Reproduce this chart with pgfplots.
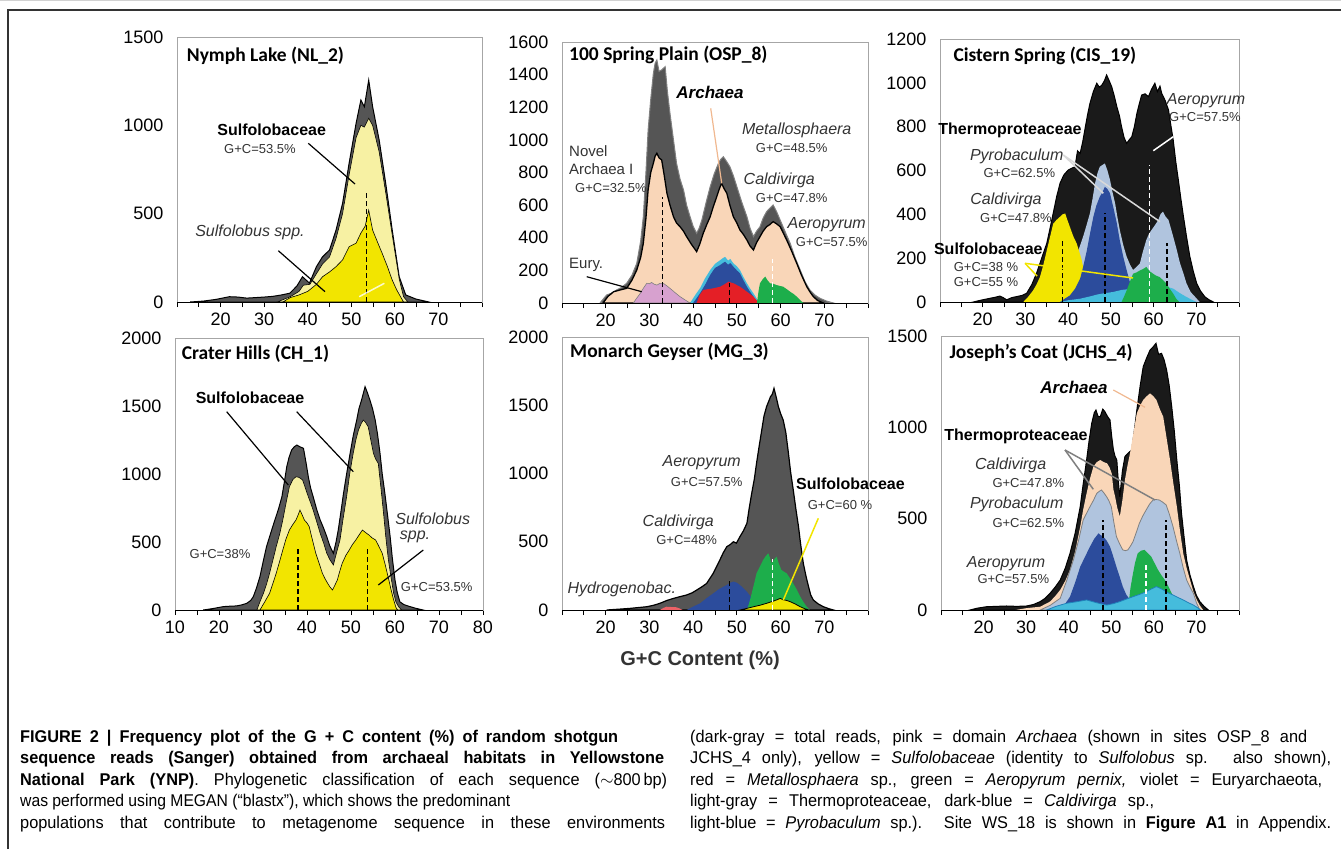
\documentclass[border=0pt]{standalone}
\usepackage{pgfplots}
\pgfplotsset{compat=1.18}
\usepackage{fontspec}
\usepackage{graphicx}
\setmainfont{Liberation Sans}
\newfontfamily\titlefont{Carlito}
\newfontfamily\capfont[FakeStretch=0.96]{Liberation Sans}
\newcommand{\fs}[1]{\fontsize{#1}{#1}\selectfont}
\newsavebox\capbox
\newcommand{\capline}[2]{\sbox\capbox{#2}\ifdim\wd\capbox>#1\relax\resizebox{#1}{\height}{#2}\else\makebox[#1][s]{#2}\fi}
\definecolor{totgray}{HTML}{555555}
\definecolor{totblack}{HTML}{1A1A1A}
\definecolor{lyellow}{HTML}{F7F1A3}
\definecolor{yell}{HTML}{F2E500}
\definecolor{peach}{HTML}{F9D6B8}
\definecolor{peachline}{HTML}{F0B890}
\definecolor{thermo}{HTML}{B0C4DE}
\definecolor{dblue}{HTML}{2C4C9C}
\definecolor{cyanb}{HTML}{45BCDC}
\definecolor{grn}{HTML}{1DAE4B}
\definecolor{redm}{HTML}{E41F26}
\definecolor{violet}{HTML}{D7A1CF}
\definecolor{gctext}{HTML}{333333}
\tikzset{gcdash/.style={dash pattern=on 5pt off 3pt, line width=1.5pt}}
\pgfplotsset{panel/.style={anchor=south west, scale only axis, xmin=10, xmax=80, ymin=0,
  axis line style={draw=gray!70, line width=0.8pt},
  xtick={10,15,...,80}, xticklabels={{},{},20,{},30,{},40,{},50,{},60,{},70,{},{}},
  xtick pos=bottom, ytick pos=left,
  tick align=outside, xtick style={draw=black, line width=0.8pt}, major tick length=5pt,
  ytick style={draw=none},
  tick label style={font=\fs{18}},
  yticklabel style={xshift=-5pt},
  xticklabel style={yshift=-2pt},
  /pgf/number format/assume math mode=true,
  /pgf/number format/1000 sep={},
  clip=false}}
\begin{document}
\begin{tikzpicture}
\path[use as bounding box] (0pt,0pt) rectangle (1341pt,-849pt);
\draw[gray!35, line width=0.8pt] (0pt,-0.5pt) -- (1341pt,-0.5pt);
\draw[black!80, line width=1.2pt] (8pt,-849pt) -- (8pt,-10pt) -- (1341pt,-10pt);

% ---------- Panel 1: NL_2
\begin{axis}[panel, at={(177pt,-302pt)}, width=305pt, height=265pt, ymax=1500, ytick={0,500,1000,1500}]
\addplot[fill=totgray, draw=black, line width=1pt] coordinates {(13,0)(16,5)(19,15)(22,30)(24,28)(26,22)(28,25)(30,28)(32,32)(34,40)(35.9,50)(37.5,90)(38.8,143)(40.4,107)(42,200)(43.4,256)(45,294)(46.5,407)(48,558)(49.5,785)(51.1,1011)(52.2,1143)(53,1105)(54,1256)(54.9,1105)(56.4,917)(57.9,672)(59.4,407)(61,143)(62.5,40)(64.8,17)(67.8,0)} \closedcycle;
\addplot[fill=lyellow, draw=black, line width=0.6pt] coordinates {(33,0)(36,30)(38,60)(39,95)(40.5,100)(42,160)(43.4,215)(45,255)(46.5,360)(48,500)(49.5,720)(51.1,930)(52.2,1000)(53,990)(54,1040)(54.9,1000)(56.4,850)(57.9,620)(59.4,380)(61,130)(62,30)(63,0)} \closedcycle;
\addplot[fill=yell, draw=black, line width=0.6pt] coordinates {(34.3,0)(36,25)(38,40)(40,60)(42,100)(43.4,143)(45,170)(46.5,200)(48,238)(49.5,313)(51.1,333)(52.2,390)(53.2,430)(54,520)(54.9,407)(56,340)(57.1,275)(58.3,200)(59.4,124)(60.4,70)(61.3,30)(62,0)} \closedcycle;
\draw[gcdash, black] (axis cs:53.5,0) -- (axis cs:53.5,617);
\draw[white, opacity=0.8, line width=1.5pt] (axis cs:51.8,30) -- (axis cs:57.6,106);
\draw[black, line width=1pt] (rel axis cs:0,0) -- (rel axis cs:1,0);
\end{axis}

% ---------- Panel 2: OSP_8
\begin{axis}[panel, at={(562pt,-303pt)}, width=306pt, height=261pt, ymax=1600, ytick={0,200,...,1600}]
\addplot[fill=totgray, draw=gray, line width=1pt] coordinates {(18.7,0)(20.2,49)(21.3,60)(22.5,80)(23.6,95)(24.8,121)(26,170)(27.1,243)(28,380)(28.6,529)(29.2,800)(29.7,1061)(30.3,1250)(30.9,1408)(31.3,1470)(31.7,1490)(32.2,1420)(32.8,1429)(33.6,1449)(34.1,1300)(34.7,1163)(35.5,1000)(36.2,857)(37,760)(37.8,693)(38.5,600)(39.3,529)(40,470)(40.8,427)(41.4,460)(42,509)(43,620)(43.9,713)(44.8,790)(45.8,857)(46.3,880)(46.9,897)(47.6,870)(48.4,836)(49.2,780)(50,713)(51.1,620)(52.3,529)(53,460)(53.8,407)(54.5,440)(55.3,468)(56,520)(56.8,560)(57.5,580)(58.3,601)(59.1,560)(59.9,509)(61,440)(62.2,366)(63.3,280)(64.5,202)(65.6,130)(66.7,80)(67.8,50)(69,29)(70.5,12)(72.1,0)} \closedcycle;
\addplot[fill=peach, draw=black, line width=1.3pt] coordinates {(19.4,0)(20.5,40)(21.8,69)(23.3,80)(24.8,90)(26,140)(27.1,202)(28,280)(28.6,366)(29.2,520)(29.7,693)(30.3,800)(30.9,857)(31.3,900)(31.7,918)(32.2,890)(32.8,877)(33.4,780)(34,673)(34.7,600)(35.5,529)(36.2,490)(37,468)(37.8,440)(38.5,407)(39.6,360)(40.8,315)(41.5,360)(42.3,427)(43.1,480)(43.9,529)(44.6,590)(45.4,652)(46,700)(46.5,734)(47.1,700)(47.7,673)(48.4,600)(49.2,529)(50,490)(50.7,448)(51.5,420)(52.3,386)(53,350)(53.8,325)(54.5,370)(55.3,407)(56,440)(56.8,468)(57.5,480)(58.3,499)(59.1,485)(59.9,468)(60.6,430)(61.4,386)(62.5,320)(63.7,243)(64.8,170)(66,100)(66.8,65)(67.5,39)(68.5,15)(69.8,0)} \closedcycle;
\addplot[fill=violet, draw=gray, line width=0.6pt] coordinates {(26.3,0)(27.1,30)(27.9,59)(28.6,90)(29.4,121)(30,118)(30.5,126)(31.1,115)(31.7,110)(32.4,120)(33.2,120)(34,105)(34.7,90)(35.8,65)(37,39)(38.2,18)(39.3,0)} \closedcycle;
\addplot[fill=cyanb, draw=none] coordinates {(39.3,0)(40.5,50)(41.6,92)(42.7,150)(43.9,202)(45,240)(46.2,263)(46.8,275)(47.3,283)(48,260)(48.5,270)(49.2,243)(50,225)(50.7,202)(51.5,160)(52.3,121)(53,90)(53.8,59)(54.6,25)(55.3,0)} \closedcycle;
\addplot[fill=dblue, draw=none] coordinates {(40,0)(40.8,30)(41.6,61)(42.7,110)(43.9,172)(45,215)(46.2,233)(46.8,245)(47.3,253)(48,235)(48.5,245)(49.2,223)(50,200)(50.7,182)(51.5,140)(52.3,100)(53,70)(53.8,39)(54.5,10)(55,0)} \closedcycle;
\addplot[fill=redm, draw=none] coordinates {(40.8,0)(41.5,50)(42.3,80)(43.4,85)(44.6,90)(45.4,95)(46.2,100)(47.2,115)(48.1,131)(48.7,125)(49.2,121)(50,110)(50.7,100)(51.5,85)(52.3,69)(53,55)(53.8,39)(54.5,18)(55.3,0)} \closedcycle;
\addplot[fill=grn, draw=none] coordinates {(54.6,0)(55,80)(55.3,121)(55.9,145)(56.5,162)(57,140)(57.6,121)(58.3,118)(59.1,110)(59.8,105)(60.6,100)(61.4,85)(62.2,69)(63,55)(63.7,39)(64.5,18)(65.2,0)} \closedcycle;
\draw[gcdash, black] (axis cs:33,0) -- (axis cs:33,652);
\draw[gcdash, black] (axis cs:48.3,0) -- (axis cs:48.3,124);
\draw[gcdash, white] (axis cs:58.2,0) -- (axis cs:58.2,270);
\draw[black, line width=1pt] (rel axis cs:0,0) -- (rel axis cs:1,0);
\end{axis}

% ---------- Panel 3: CIS_19
\begin{axis}[panel, at={(940pt,-302pt)}, width=299pt, height=263pt, ymax=1200, ytick={0,200,...,1200}]
\addplot[fill=totblack, draw=black, line width=1pt] coordinates {(17.8,0)(19.5,8)(21.7,17)(23,22)(24,27)(24.8,20)(25.6,10)(26.8,20)(28,25)(29.2,30)(30.3,40)(31.5,80)(32.6,131)(33.8,200)(35,268)(35.8,340)(36.5,405)(37.3,480)(38.1,542)(39,580)(40,602)(40.8,610)(41.6,617)(42.2,690)(42.8,678)(43.4,730)(43.9,785)(44.5,850)(45.1,906)(45.9,960)(46.7,998)(47.3,980)(47.9,990)(48.5,1010)(49,1036)(49.6,1010)(50.2,982)(50.8,940)(51.4,891)(52,850)(52.5,800)(53.1,750)(53.7,724)(54.3,740)(54.9,754)(55.5,800)(56.1,861)(56.6,900)(57.2,944)(58,950)(58.8,937)(59.5,970)(60.3,998)(60.9,960)(61.5,985)(61.9,952)(62.7,920)(63.5,876)(64.1,800)(64.6,739)(65.2,640)(65.8,557)(66.4,470)(67,389)(67.7,300)(68.5,207)(69.3,140)(70.1,85)(71,50)(72,24)(73,10)(74,0)} \closedcycle;
\addplot[fill=thermo, draw=none] coordinates {(38.1,0)(39.5,90)(41.2,176)(42.3,230)(43.5,298)(44.3,350)(45.1,405)(45.7,470)(46.3,542)(46.9,590)(47.4,617)(48,625)(48.6,632)(49.2,600)(49.8,557)(50.4,500)(51,450)(51.6,380)(52.1,328)(52.9,260)(53.7,207)(54.5,170)(55.2,146)(56,160)(56.8,176)(57.5,230)(58.3,283)(58.9,310)(59.5,328)(60.3,350)(61.1,374)(61.6,400)(62.2,412)(62.8,390)(63.5,374)(64,340)(64.6,298)(65.4,240)(66.2,176)(67,130)(67.7,85)(68.7,45)(69.7,24)(70.8,0)} \closedcycle;
\addplot[fill=yell, draw=none] coordinates {(29.5,0)(30.7,25)(31.8,53)(32.6,80)(33.4,114)(34.2,170)(35,236)(35.8,300)(36.5,357)(37.3,375)(38.1,389)(38.7,400)(39.3,404)(39.9,370)(40.4,343)(41.2,300)(42,267)(42.6,230)(43.2,190)(43.6,150)(44,114)(44.4,60)(44.8,23)(45.2,0)} \closedcycle;
\addplot[fill=dblue, draw=none] coordinates {(38.1,0)(39.2,15)(40.4,30)(41.6,60)(42.8,106)(43.5,160)(44.3,228)(45.1,310)(45.9,389)(46.6,440)(47.4,480)(48,500)(48.6,526)(49.2,515)(49.8,496)(50.6,430)(51.4,359)(52.1,280)(52.9,207)(53.5,160)(54.1,116)(54.7,75)(55.2,40)(55.8,15)(56.3,0)} \closedcycle;
\addplot[fill=cyanb, draw=none] coordinates {(38.1,0)(40,8)(42.8,15)(45,25)(47,35)(48.5,40)(50.6,46)(52.5,55)(55.2,61)(56.8,70)(58.3,76)(60,80)(61.4,76)(63,70)(64.6,61)(66.2,40)(67.7,23)(69,10)(70.1,0)} \closedcycle;
\addplot[fill=grn, draw=none] coordinates {(52.5,0)(53.1,25)(53.7,53)(54.5,95)(55.2,129)(56,135)(56.8,144)(57.5,150)(58.3,160)(59.1,140)(59.9,129)(60.6,120)(61.4,114)(62.2,100)(63,84)(63.8,60)(64.6,38)(65.3,15)(66,0)} \closedcycle;
\draw[gcdash, black] (axis cs:38.7,0) -- (axis cs:38.7,283);
\draw[gcdash, black] (axis cs:48.6,0) -- (axis cs:48.6,405);
\draw[gcdash, white] (axis cs:59,0) -- (axis cs:59,625);
\draw[gcdash, black] (axis cs:63.1,0) -- (axis cs:63.1,268);
\draw[black, line width=1pt] (rel axis cs:0,0) -- (rel axis cs:1,0);
\end{axis}

% ---------- Panel 4: CH_1
\begin{axis}[panel, at={(175pt,-610pt)}, width=308pt, height=272pt, ymax=2000, ytick={0,500,...,2000},
  xticklabels={10,{},20,{},30,{},40,{},50,{},60,{},70,{},80}]
\addplot[fill=totgray, draw=black, line width=1pt] coordinates {(16.4,0)(18.5,10)(21,25)(22.5,28)(24,30)(25.2,38)(26.3,49)(27.2,70)(27.8,98)(28.5,160)(29.3,245)(30,350)(30.8,466)(31.8,570)(32.7,662)(33.5,740)(34.3,833)(34.9,950)(35.4,1054)(35.9,1120)(36.5,1176)(37.1,1200)(37.7,1213)(38.4,1200)(39.2,1189)(39.8,1080)(40.3,980)(40.8,900)(41.4,833)(42.2,740)(43,662)(43.8,600)(44.5,539)(45.2,470)(46,417)(46.6,500)(47.1,588)(47.7,720)(48.3,858)(49,1000)(49.8,1152)(50.5,1280)(51.3,1397)(51.8,1480)(52.4,1544)(53.2,1642)(53.7,1600)(54.3,1544)(54.9,1480)(55.5,1397)(56,1300)(56.6,1152)(57.1,1000)(57.7,858)(58.3,700)(58.9,539)(59.4,380)(60,221)(60.5,130)(61.1,61)(62,40)(63.4,25)(64.8,12)(66.4,0)} \closedcycle;
\addplot[fill=lyellow, draw=black, line width=0.6pt] coordinates {(28.6,0)(29.3,60)(30.1,123)(30.8,190)(31.5,270)(32.2,360)(33,466)(33.8,560)(34.5,662)(35.2,780)(36,907)(36.8,960)(37.5,980)(38.2,975)(39,956)(39.6,900)(40.3,833)(40.8,790)(41.4,735)(42.2,650)(43,564)(43.8,490)(44.5,417)(45.2,370)(46,331)(46.7,420)(47.5,515)(48.2,670)(49,833)(49.7,1000)(50.5,1152)(51.1,1250)(51.7,1323)(52.3,1370)(52.8,1397)(53.3,1380)(53.9,1348)(54.5,1250)(55.1,1152)(55.6,1110)(56.2,1078)(56.8,900)(57.4,711)(57.9,540)(58.5,368)(59.1,240)(59.7,123)(60.2,60)(60.8,25)(61.5,0)} \closedcycle;
\addplot[fill=yell, draw=black, line width=0.6pt] coordinates {(29.3,0)(30.4,60)(31.5,123)(32.2,190)(33,270)(33.8,360)(34.5,441)(35.2,520)(36,588)(36.8,630)(37.5,662)(38,700)(38.4,735)(38.9,700)(39.4,662)(40,640)(40.5,613)(41.2,520)(42,417)(42.8,340)(43.5,270)(44.1,230)(44.7,196)(45.2,170)(45.8,147)(46.3,180)(46.9,221)(47.4,280)(48,343)(48.8,400)(49.6,441)(50.3,480)(51.1,515)(51.8,550)(52.6,588)(53.3,570)(54.1,551)(54.8,530)(55.6,515)(56.3,470)(57.1,417)(57.8,330)(58.6,221)(59.1,150)(59.7,74)(60.2,20)(60.6,0)} \closedcycle;
\draw[gcdash, black] (axis cs:38,0) -- (axis cs:38,453);
\draw[gcdash, black] (axis cs:53.7,0) -- (axis cs:53.7,453);
\draw[black, line width=1pt] (rel axis cs:0,0) -- (rel axis cs:1,0);
\end{axis}

% ---------- Panel 5: MG_3
\begin{axis}[panel, at={(562pt,-610pt)}, width=306pt, height=273pt, ymax=2000, ytick={0,500,...,2000}]
\addplot[fill=totgray, draw=black, line width=1.2pt] coordinates {(20.2,0)(23,6)(25.6,12)(27.5,18)(29.4,24)(31,35)(32.4,49)(34,70)(35.5,85)(37,98)(38.5,110)(39.7,125)(40.8,146)(42,170)(43.1,195)(43.8,230)(44.6,269)(45.4,320)(46.1,366)(46.9,420)(47.7,464)(48.5,480)(49.2,500)(49.9,490)(50.7,537)(51.5,580)(52.3,635)(52.8,740)(53.4,855)(54,960)(54.5,1075)(55.1,1200)(55.7,1319)(56.2,1420)(56.8,1490)(57.3,1530)(57.7,1563)(58.1,1580)(58.5,1624)(59,1560)(59.5,1490)(60,1440)(60.6,1392)(61.2,1300)(61.8,1148)(62.3,1010)(62.9,880)(63.5,740)(64.1,611)(64.6,480)(65.2,342)(65.8,250)(66.4,171)(66.9,110)(67.5,73)(68.6,45)(69.8,24)(71,10)(72.1,0)} \closedcycle;
\addplot[fill=dblue, draw=none] coordinates {(38.5,0)(40,25)(41.6,49)(43,85)(44.6,122)(46,155)(47.7,183)(48.5,200)(49.2,208)(50,200)(50.7,183)(51.5,160)(52.3,134)(53,105)(53.8,73)(54.5,45)(55.3,24)(56,0)} \closedcycle;
\addplot[fill=grn, draw=none] coordinates {(52.3,0)(52.9,60)(53.4,122)(54,200)(54.5,269)(55.3,320)(56,366)(56.6,395)(57.2,415)(57.6,380)(57.9,342)(58.5,370)(59.1,391)(59.6,340)(60.2,293)(60.8,280)(61.4,269)(62.2,230)(62.9,195)(63.7,150)(64.5,98)(65.2,60)(66,24)(66.7,0)} \closedcycle;
\addplot[fill=yell, draw=black, line width=0.8pt] coordinates {(50.7,0)(52.3,12)(53.8,24)(55.3,35)(56.8,49)(58.3,65)(59.2,75)(59.9,85)(60.6,75)(61.4,70)(62.2,61)(63.3,45)(64.5,24)(65.5,10)(66.5,0)} \closedcycle;
\addplot[fill=redm!70, draw=none] coordinates {(32.4,0)(33.2,15)(33.9,24)(35,22)(36.2,20)(37,10)(37.6,0)} \closedcycle;
\draw[gcdash, black] (axis cs:48.3,0) -- (axis cs:48.3,232);
\draw[gcdash, white] (axis cs:58.2,0) -- (axis cs:58.2,376);
\draw[black, line width=1pt] (rel axis cs:0,0) -- (rel axis cs:1,0);
\end{axis}

% ---------- Panel 6: JCHS_4
\begin{axis}[panel, at={(941pt,-610pt)}, width=298pt, height=274pt, ymax=1500, ytick={0,500,1000,1500}]
\addplot[fill=totblack, draw=black, line width=1pt] coordinates {(16.8,0)(18.5,10)(20.7,18)(23,20)(25.4,22)(27.8,20)(30.1,22)(31.7,30)(33.3,46)(34.5,65)(35.6,91)(36.8,125)(38,164)(39.2,230)(40.3,310)(41.5,420)(42.7,566)(43.4,690)(44.2,821)(44.8,930)(45.4,1022)(46,1080)(46.4,1095)(46.9,1060)(47.4,1058)(48,1100)(48.5,1086)(49.1,1060)(49.7,1040)(50.1,950)(50.5,876)(50.9,840)(51.3,821)(51.6,720)(52,620)(52.6,760)(53.2,840)(54,860)(54.8,876)(55.4,980)(56,1095)(56.8,1230)(57.5,1332)(58.3,1380)(59.1,1423)(59.8,1440)(60.5,1460)(61.1,1400)(61.8,1405)(62.4,1370)(63,1314)(63.6,1230)(64.2,1113)(64.8,980)(65.4,821)(66,680)(66.5,529)(67.1,400)(67.7,274)(68.5,190)(69.3,128)(70,80)(70.8,46)(71.8,20)(72.8,0)} \closedcycle;
\addplot[fill=peach, draw=none] coordinates {(27.5,0)(30,10)(33.3,18)(35.6,46)(36.8,75)(38,110)(39.2,160)(40.3,219)(41.5,320)(42.7,456)(43.4,550)(44.2,639)(45,720)(45.8,785)(46.6,810)(47.4,821)(48.2,810)(49,803)(49.6,780)(50.1,748)(50.5,660)(50.9,620)(51.4,560)(52,511)(52.6,600)(53.2,712)(53.8,790)(54.4,858)(55.2,970)(56,1077)(56.8,1120)(57.5,1150)(58.3,1170)(59.1,1186)(59.9,1170)(60.6,1150)(61.4,1100)(62.2,1058)(63,940)(63.8,821)(64.6,690)(65.4,566)(66.1,440)(66.9,310)(67.7,230)(68.5,164)(69.3,100)(70.1,55)(70.8,25)(71.6,0)} \closedcycle;
\addplot[fill=thermo, draw=gray, line width=0.8pt] coordinates {(33.3,0)(35.6,25)(38,64)(39.5,160)(41.1,274)(42.3,380)(43.4,493)(44.2,530)(45,566)(45.8,600)(46.6,639)(47.2,650)(47.7,657)(48.3,640)(48.9,620)(49.4,600)(50,566)(50.6,480)(51.2,402)(52,360)(52.7,329)(53.3,325)(53.9,329)(54.5,350)(55.1,374)(55.8,420)(56.6,475)(57.4,515)(58.2,548)(59,580)(59.8,602)(60.5,605)(61.3,602)(62.1,590)(62.9,575)(63.7,520)(64.5,456)(65.3,380)(66.1,310)(66.9,230)(67.7,164)(68.5,125)(69.3,91)(70,40)(70.8,0)} \closedcycle;
\addplot[fill=dblue, draw=none] coordinates {(38,0)(39.2,35)(40.3,73)(41.5,150)(42.7,237)(43.8,290)(45,347)(46,390)(47,420)(47.5,410)(48.1,402)(48.9,380)(49.7,347)(50.5,290)(51.2,237)(52,180)(52.7,128)(53.5,85)(54.4,55)(55.2,0)} \closedcycle;
\addplot[fill=grn, draw=none] coordinates {(53.9,0)(54.5,120)(55.1,201)(55.6,260)(56.2,310)(57,325)(57.8,329)(58.6,310)(59.4,292)(60.2,255)(61,219)(61.8,190)(62.6,164)(63.4,130)(64.2,91)(64.8,45)(65.4,0)} \closedcycle;
\addplot[fill=cyanb, draw=dblue!70!cyan, line width=0.8pt] coordinates {(34.8,0)(37,20)(39.5,37)(41.8,45)(44.2,55)(46.5,40)(48.9,27)(50.5,35)(52,46)(53.6,60)(55.1,73)(56.6,85)(58.2,100)(59.4,115)(60.6,128)(61.4,120)(62.2,110)(63.3,95)(64.5,82)(65.7,68)(66.9,55)(68.1,40)(69.3,27)(70.3,12)(71,0)} \closedcycle;
\draw[gcdash, black] (axis cs:48.1,0) -- (axis cs:48.1,493);
\draw[gcdash, white] (axis cs:58.1,0) -- (axis cs:58.1,256);
\draw[gcdash, black] (axis cs:62.8,0) -- (axis cs:62.8,493);
\draw[black, line width=1pt] (rel axis cs:0,0) -- (rel axis cs:1,0);
\end{axis}

% ---------- Annotations
\tikzset{ttlx/.style={anchor=west, inner sep=0pt, font=\titlefont\bfseries\fs{19.5}},
  famx/.style={inner sep=0pt, font=\bfseries\fs{16}},
  spx/.style={inner sep=0pt, font=\itshape\fs{16}, text=gctext},
  gcx/.style={inner sep=0pt, font=\fs{13}, text=gctext},
  ptrx/.style={line width=1.2pt},
  captxt/.style={anchor=base west, inner sep=0pt, font=\capfont\fs{17}}}
% P1
\node[ttlx] at (186.7pt,-56pt) {Nymph Lake (NL\_2)};
\node[famx] at (271.7pt,-129.3pt) {Sulfolobaceae};
\node[gcx] at (260pt,-149pt) {G+C=53.5\%};
\draw[ptrx] (308.3pt,-143.3pt) -- (355pt,-184pt);
\node[spx] at (250pt,-232pt) {Sulfolobus spp.};
\draw[ptrx] (278.3pt,-250.7pt) -- (325pt,-291.7pt);
% P2
\node[ttlx] at (569pt,-55pt) {100 Spring Plain (OSP\_8)};
\node[inner sep=0pt, font=\bfseries\itshape\fs{17}] at (710pt,-92.7pt) {Archaea};
\draw[peachline, line width=1.2pt] (710.7pt,-108.3pt) -- (721.7pt,-183.3pt);
\node[anchor=west, inner sep=0pt, font=\fs{15}, text=gctext] at (569pt,-150.7pt) {Novel};
\node[anchor=west, inner sep=0pt, font=\fs{15}, text=gctext] at (569pt,-169.3pt) {Archaea I};
\node[gcx, anchor=west] at (575pt,-188.3pt) {G+C=32.5\%};
\node[spx] at (796.7pt,-130pt) {Metallosphaera};
\node[gcx] at (791.7pt,-148.3pt) {G+C=48.5\%};
\node[spx] at (779.3pt,-180.7pt) {Caldivirga};
\node[gcx] at (791.7pt,-197.7pt) {G+C=47.8\%};
\node[spx] at (826.7pt,-225pt) {Aeropyrum};
\node[gcx] at (831.7pt,-241.7pt) {G+C=57.5\%};
\node[anchor=west, inner sep=0pt, font=\fs{15}, text=gctext] at (569pt,-265pt) {Eury.};
\draw[ptrx] (586.7pt,-276.7pt) -- (641.7pt,-291.7pt);
% P3
\node[ttlx] at (953.3pt,-56pt) {Cistern Spring (CIS\_19)};
\node[spx] at (1206pt,-101pt) {Aeropyrum};
\node[gcx] at (1205pt,-116.7pt) {G+C=57.5\%};
\draw[white, line width=1.5pt] (1173.3pt,-136.7pt) -- (1153.3pt,-150.7pt);
\node[famx] at (1010pt,-130.7pt) {Thermoproteaceae};
\node[spx] at (1016.7pt,-156pt) {Pyrobaculum};
\node[gcx] at (1019.3pt,-173.3pt) {G+C=62.5\%};
\draw[gray!30, line width=1.5pt] (1063.3pt,-155pt) -- (1103.3pt,-193.3pt);
\draw[gray!30, line width=1.5pt] (1063.3pt,-155pt) -- (1160pt,-221.7pt);
\node[spx] at (1006pt,-200pt) {Caldivirga};
\node[gcx] at (1016pt,-217.7pt) {G+C=47.8\%};
\node[famx] at (988.3pt,-248.3pt) {Sulfolobaceae};
\node[gcx] at (986pt,-267.3pt) {G+C=38 \%};
\node[gcx] at (986pt,-282.3pt) {G+C=55 \%};
\draw[yell, line width=1.5pt] (1025pt,-263.3pt) -- (1037pt,-276pt);
\draw[yell, line width=1.5pt] (1025pt,-263.3pt) -- (1133pt,-278pt);
% P4
\node[ttlx] at (181.7pt,-353.3pt) {Crater Hills (CH\_1)};
\node[famx] at (250pt,-397.7pt) {Sulfolobaceae};
\draw[ptrx] (226.7pt,-411.7pt) -- (288.3pt,-485pt);
\draw[ptrx] (296.7pt,-411.7pt) -- (353.3pt,-471.7pt);
\node[gcx] at (220pt,-554.3pt) {G+C=38\%};
\node[spx] at (432.7pt,-519pt) {Sulfolobus};
\node[spx] at (415pt,-536.7pt) {spp.};
\draw[ptrx] (423.3pt,-550pt) -- (378.3pt,-585pt);
\node[gcx] at (436.7pt,-586.7pt) {G+C=53.5\%};
% P5
\node[ttlx] at (570pt,-351.7pt) {Monarch Geyser (MG\_3)};
\node[spx] at (701.7pt,-462.7pt) {Aeropyrum};
\node[gcx] at (706.7pt,-482.3pt) {G+C=57.5\%};
\node[famx, anchor=west] at (796pt,-484pt) {Sulfolobaceae};
\node[gcx] at (840pt,-505pt) {G+C=60 \%};
\draw[yell, line width=1.5pt] (818.3pt,-518.3pt) -- (783.3pt,-600pt);
\node[spx] at (678.3pt,-522.3pt) {Caldivirga};
\node[gcx] at (686.7pt,-540pt) {G+C=48\%};
\node[spx, anchor=west] at (567.3pt,-589.3pt) {Hydrogenobac.};
% P6
\node[ttlx] at (949.3pt,-352.3pt) {Joseph’s Coat (JCHS\_4)};
\node[inner sep=0pt, font=\bfseries\itshape\fs{17}] at (1074pt,-387.7pt) {Archaea};
\draw[peachline, line width=1.2pt] (1113.3pt,-390pt) -- (1145pt,-407.3pt);
\node[famx] at (1016pt,-436pt) {Thermoproteaceae};
\draw[gray, line width=1.5pt] (1065pt,-450pt) -- (1093.3pt,-489.3pt);
\draw[gray, line width=1.5pt] (1065pt,-450pt) -- (1155pt,-500pt);
\node[spx] at (1010.7pt,-465.7pt) {Caldivirga};
\node[gcx] at (1028.3pt,-483.3pt) {G+C=47.8\%};
\node[spx] at (1016.7pt,-504.3pt) {Pyrobaculum};
\node[gcx] at (1028.3pt,-522.7pt) {G+C=62.5\%};
\node[spx] at (1006pt,-564pt) {Aeropyrum};
\node[gcx] at (1013.3pt,-579.3pt) {G+C=57.5\%};

% x label
\node[inner sep=0pt, font=\bfseries\fs{20}, text=gctext] at (700pt,-660pt) {G+C Content (\%)};

% caption
\node[captxt] at (20pt,-742pt) {\capline{598pt}{\bfseries FIGURE 2 | Frequency plot of the G + C content (\%) of random shotgun}};
\node[captxt] at (20pt,-763.5pt) {\capline{644pt}{\bfseries sequence reads (Sanger) obtained from archaeal habitats in Yellowstone}};
\node[captxt] at (20pt,-785pt) {\capline{647pt}{\textbf{National Park (YNP)}. Phylogenetic classification of each sequence ($\sim$800\,bp)}};
\node[captxt] at (20pt,-806.5pt) {\capline{490pt}{was performed using MEGAN (“blastx”), which shows the predominant}};
\node[captxt] at (20pt,-828pt) {\capline{645pt}{populations that contribute to metagenome sequence in these environments}};
\node[captxt] at (690pt,-742pt) {\capline{617pt}{(dark-gray = total reads, pink = domain \textit{Archaea} (shown in sites OSP\_8 and}};
\node[captxt] at (690pt,-763.5pt) {\capline{641pt}{JCHS\_4 only), yellow = \textit{Sulfolobaceae} (identity to \textit{Sulfolobus} sp. also shown),}};
\node[captxt] at (690pt,-785pt) {\capline{632pt}{red = \textit{Metallosphaera} sp., green = \textit{Aeropyrum pernix,} violet = Euryarchaeota,}};
\node[captxt] at (690pt,-806.5pt) {\capline{464pt}{light-gray = Thermoproteaceae, dark-blue = \textit{Caldivirga} sp.,}};
\node[captxt] at (690pt,-828pt) {\capline{641pt}{light-blue = \textit{Pyrobaculum} sp.). Site WS\_18 is shown in \textbf{Figure A1} in Appendix.}};
\end{tikzpicture}
\end{document}
